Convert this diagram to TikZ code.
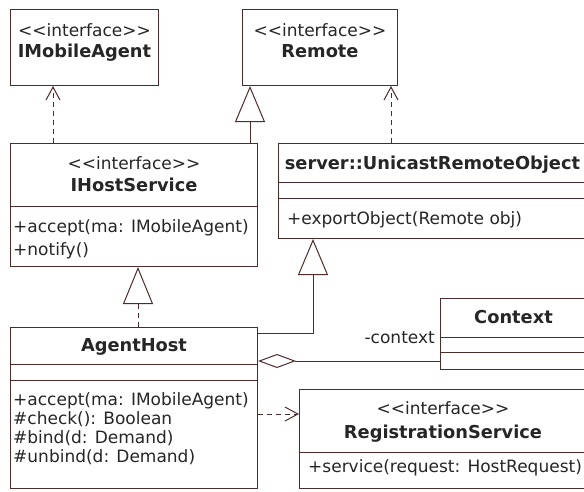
\documentclass[tikz,border=0pt]{standalone}
\usepackage{fontspec}
\setmainfont{DejaVu Sans}
\usetikzlibrary{arrows.meta}

\definecolor{umlline}{RGB}{78,44,44}
\definecolor{umltext}{RGB}{38,38,38}

\newcommand{\stereotype}{{<}{<}interface{>}{>}}

\tikzset{
	classbox/.style={draw=umlline,fill=white,line width=1pt,anchor=north west,inner sep=0pt},
	sepline/.style={draw=umlline,line width=1pt},
	stereo/.style={text=umltext,inner sep=0pt,anchor=base,font=\fontsize{17}{19}\selectfont},
	cname/.style={text=umltext,inner sep=0pt,anchor=base,font=\fontsize{17.8}{19}\selectfont\bfseries},
	member/.style={text=umltext,inner sep=0pt,anchor=base west,font=\fontsize{17}{19}\selectfont},
	link/.style={draw=umlline,line width=1pt},
	realize/.style={link,dash pattern=on 5pt off 4pt,-{Straight Barb[length=13pt,width=14pt,line width=1pt]}},
	implements/.style={link,dash pattern=on 5pt off 4pt,-{Triangle[open,fill=white,length=37pt,width=30pt,line width=1pt]}},
	extends/.style={link,-{Triangle[open,fill=white,length=36pt,width=30pt,line width=1pt]}},
	aggregate/.style={link,{Diamond[open,fill=white,length=38pt,width=14pt,line width=1pt]}-}
}

\begin{document}
\begin{tikzpicture}[x=1pt,y=-1pt]
		\useasboundingbox[fill=white] (0,0) rectangle (584,491);
%		\draw[help lines,step=50] (0,0) grid (584,491);

		% interfaces on top
		\node[classbox,minimum width=148pt,minimum height=76pt] (imobile) at (10,9) {};
		\node[stereo] (imobile_st) at (imobile.north |- 0,36) {\stereotype};
		\node[cname] (imobile_nm) at (imobile.north |- 0,57) {IMobileAgent};

		\node[classbox,minimum width=155pt,minimum height=76pt] (remote) at (242,9) {};
		\node[stereo] (remote_st) at (remote.north |- 0,36) {\stereotype};
		\node[cname] (remote_nm) at (remote.north |- 0,57) {Remote};

		% middle row
		\node[classbox,minimum width=247pt,minimum height=123pt] (hostsvc) at (10,143) {};
		\node[stereo] (hostsvc_st) at (hostsvc.north |- 0,169) {\stereotype};
		\node[cname] (hostsvc_nm) at (hostsvc.north |- 0,191) {IHostService};
		\draw[sepline] (hostsvc.west |- 0,206) -- (hostsvc.east |- 0,206);
		\node[member] (hostsvc_m1) at (13,232) {+accept(ma: IMobileAgent)};
		\node[member] (hostsvc_m2) at (13,255) {+notify()};

		\node[classbox,minimum width=308pt,minimum height=95pt] (unicast) at (278,143) {};
		\node[cname] (unicast_nm) at (unicast.north |- 0,169) {server::UnicastRemoteObject};
		\draw[sepline] (unicast.west |- 0,182) -- (unicast.east |- 0,182);
		\draw[sepline] (unicast.west |- 0,198) -- (unicast.east |- 0,198);
		\node[member] (unicast_m1) at (287,224) {+exportObject(Remote obj)};

		% bottom row
		\node[classbox,minimum width=247pt,minimum height=161pt] (agenthost) at (10,327) {};
		\node[cname] (agenthost_nm) at (agenthost.north |- 0,351) {AgentHost};
		\draw[sepline] (agenthost.west |- 0,364) -- (agenthost.east |- 0,364);
		\draw[sepline] (agenthost.west |- 0,380) -- (agenthost.east |- 0,380);
		\foreach \txt [count=\i] in {+accept(ma: IMobileAgent),\#check(): Boolean,\#bind(d: Demand),\#unbind(d: Demand)}
			\node[member] (agenthost_m\i) at (13,386+19*\i) {\txt};

		\node[classbox,minimum width=146pt,minimum height=71pt] (context) at (440,298) {};
		\node[cname] (context_nm) at (context.north |- 0,323) {Context};
		\draw[sepline] (context.west |- 0,337) -- (context.east |- 0,337);
		\draw[sepline] (context.west |- 0,352) -- (context.east |- 0,352);

		\node[classbox,minimum width=287pt,minimum height=99pt] (regsvc) at (299,389) {};
		\node[stereo] (regsvc_st) at (regsvc.north |- 0,414) {\stereotype};
		\node[cname] (regsvc_nm) at (regsvc.north |- 0,438) {RegistrationService};
		\draw[sepline] (regsvc.west |- 0,452) -- (regsvc.east |- 0,452);
		\node[member] (regsvc_m1) at (308,472) {+service(request: HostRequest)};

		% relations
		\draw[realize] (53,0 |- hostsvc.north) -- (53,0 |- imobile.south);
		\draw[extends] (250,0 |- hostsvc.north) -- (250,0 |- remote.south);
		\draw[realize] (391,0 |- unicast.north) -- (391,0 |- remote.south);
		\draw[implements] (138,0 |- agenthost.north) -- (138,0 |- hostsvc.south);
		\draw[extends] (agenthost.east |- 0,333) -| (313,0 |- unicast.south);
		\draw[aggregate] (agenthost.east |- 0,361) -- (context.west |- 0,361);
		\node[stereo,anchor=base east] (context_role) at (435,343) {-context};
		\draw[realize] (agenthost.east |- 0,414) -- (regsvc.west |- 0,414);
	\end{tikzpicture}
\end{document}
